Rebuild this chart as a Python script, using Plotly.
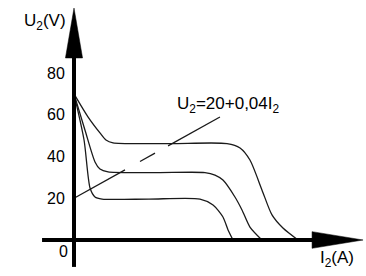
import plotly.graph_objects as go

# ---- data (I2 in A, U2 in V) ----
curve_low_I = [0, 67, 107, 140, 187, 500, 840, 927, 993, 1027, 1060]
curve_low_U = [70, 47.9, 24.9, 20.6, 19.6, 19.6, 19.6, 16.8, 11.0, 4.8, 0]

curve_mid_I = [0, 73, 140, 173, 227, 550, 873, 940, 993, 1073, 1120, 1173, 1253]
curve_mid_U = [70, 52.7, 37.4, 34.0, 32.6, 32.3, 32.3, 31.1, 28.7, 20.6, 14.4, 6.2, 0]

curve_high_I = [0, 93, 173, 213, 260, 640, 1020, 1107, 1173, 1253, 1320, 1393, 1493]
curve_high_U = [70, 59, 51.3, 47.9, 46.5, 46.2, 46.2, 44.1, 38.3, 24.0, 12.0, 5.7, 0]

# load line U2 = 20 + 0.04 I2 (drawn broken in three pieces)
load_I = [0, 340, None, 440, 540, None, 627, 973]
load_U = [20, 33.6, None, 37.6, 41.6, None, 45.1, 58.9]

y_ticks = [20, 40, 60, 80]
y_tick_labels = ["20", "40", "60", "80"]

# ---- layout constants ----
X_RANGE = [-493.3, 1946.7]
Y_RANGE = [-17.25, 114.97]
FONT = "Liberation Sans, Arial, sans-serif"
CURVE_COLOR = "#1a1a1a"

fig = go.Figure()

for xs, ys in [(curve_low_I, curve_low_U), (curve_mid_I, curve_mid_U), (curve_high_I, curve_high_U)]:
    fig.add_trace(go.Scatter(x=xs, y=ys, mode="lines",
                             line=dict(color=CURVE_COLOR, width=1.3, shape="spline", smoothing=0.7),
                             hoverinfo="skip", showlegend=False))

fig.add_trace(go.Scatter(x=load_I, y=load_U, mode="lines",
                         line=dict(color=CURVE_COLOR, width=1.3),
                         connectgaps=False, hoverinfo="skip", showlegend=False))

# axes drawn as thick lines with filled arrowheads (data coordinates)
shapes = [
    dict(type="line", x0=-213, x1=1600, y0=0, y1=0, line=dict(color="black", width=4)),
    dict(type="line", x0=0, x1=0, y0=-12.9, y1=88, line=dict(color="black", width=4)),
    dict(type="path", path="M -57,87.2 L 0,111.1 L 57,87.2 Z",
         fillcolor="black", line=dict(color="black", width=0.5)),
    dict(type="path", path="M 1587,4.0 L 1927,0 L 1587,-4.0 Z",
         fillcolor="black", line=dict(color="black", width=0.5)),
]

annotations = []
for v, t in zip(y_ticks, y_tick_labels):
    annotations.append(dict(x=-120, y=v, text=t, showarrow=False, xanchor="center", yanchor="middle",
                            font=dict(size=16, family=FONT, color="black")))
annotations.append(dict(x=-67, y=-5.75, text="0", showarrow=False, xanchor="center", yanchor="middle",
                        font=dict(size=16, family=FONT, color="black")))
annotations.append(dict(x=-193, y=104.5, text="U<sub>2</sub>(V)", showarrow=False, xanchor="center",
                        yanchor="middle", font=dict(size=17, family=FONT, color="black")))
annotations.append(dict(x=1753, y=-9, text="I<sub>2</sub>(A)", showarrow=False, xanchor="center",
                        yanchor="middle", font=dict(size=17, family=FONT, color="black")))
annotations.append(dict(x=673, y=64.8, text="U<sub>2</sub>=20+0,04I<sub>2</sub>", showarrow=False,
                        xanchor="left", yanchor="middle", font=dict(size=17, family=FONT, color="black")))

fig.update_layout(
    width=366, height=276, autosize=False,
    margin=dict(l=0, r=0, t=0, b=0, pad=0),
    paper_bgcolor="white", plot_bgcolor="white",
    xaxis=dict(range=X_RANGE, visible=False, fixedrange=True),
    yaxis=dict(range=Y_RANGE, visible=False, fixedrange=True),
    shapes=shapes, annotations=annotations,
    showlegend=False,
)

fig.write_html("out.html", config={"displayModeBar": False})
